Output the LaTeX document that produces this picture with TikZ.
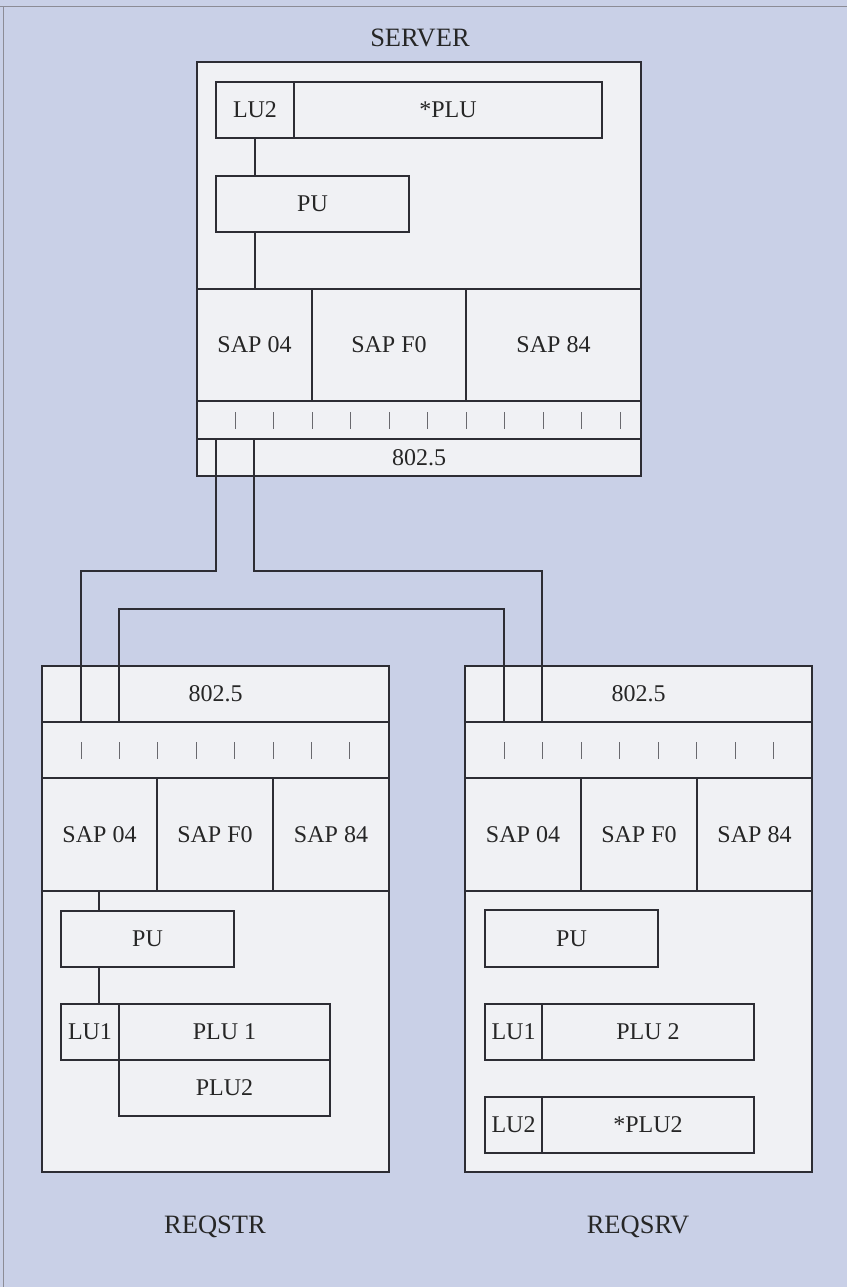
\documentclass[tikz,border=0pt]{standalone}
\usepackage{fontspec}
\setmainfont{Liberation Serif}
\definecolor{bgc}{RGB}{201,208,231}
\definecolor{boxc}{RGB}{240,241,244}
\definecolor{linec}{RGB}{45,45,52}
\definecolor{tickc}{RGB}{105,105,110}
\definecolor{framec}{RGB}{140,140,150}
\newcommand\mybox[7][]{\node[cell,#1,minimum width={(#5-#3)*1pt},minimum height={(#6-#4)*1pt}] (#2) at (#3,#4) {#7};}
\begin{document}
\begin{tikzpicture}[x=1pt,y=-1pt,
  cell/.style={draw=linec,fill=boxc,line width=1.1pt,inner sep=0pt,outer sep=0pt,anchor=north west,
    font=\fontsize{24}{28}\selectfont,text=black!85},
  outer/.style={line width=2.2pt},
  conn/.style={draw=linec,line width=1.6pt},
  tick/.style={draw=tickc,line width=1pt},
  lbl/.style={font=\fontsize{26.5}{30}\selectfont,text=black!85,inner sep=0pt}]
\useasboundingbox (0,0) rectangle (847,1287);
\fill[bgc] (0,0) rectangle (847,1287);
\draw[framec,line width=1pt] (0,7) -- (847,7);
\draw[framec,line width=1pt] (3,7) -- (3,1287);

% ---------------- SERVER ----------------
\node[lbl] (srvlbl) at (420,38) {SERVER};
\mybox[outer]{srv}{197}{62}{641}{476}{}
\mybox{srvlu}{216}{82}{294}{138}{LU2}
\mybox{srvplu}{294}{82}{602}{138}{*PLU}
\mybox{srvpu}{216}{176}{409}{232}{PU}
\mybox{srvsapa}{197}{289}{312}{401}{SAP 04}
\mybox{srvsapb}{312}{289}{466}{401}{SAP F0}
\mybox{srvsapc}{466}{289}{641}{401}{SAP 84}
\mybox{srvtick}{197}{401}{641}{439}{}
\mybox{srvmac}{197}{439}{641}{476}{802.5}
\draw[outer,draw=linec] (197,62) rectangle (641,476);
\foreach \i in {0,...,10}{\draw[tick] (235+\i*38.5,412) -- (235+\i*38.5,429);}
\draw[conn] (srvlu.south) -- (srvpu.north -| srvlu.south);
\draw[conn] (srvpu.south -| srvlu.south) -- (srvsapa.north -| srvlu.south);

% ---------------- REQSTR ----------------
\mybox[outer]{rqt}{42}{666}{389}{1172}{}
\mybox{rqtmac}{42}{666}{389}{722}{802.5}
\mybox{rqttick}{42}{722}{389}{778}{}
\mybox{rqtsapa}{42}{778}{157}{891}{SAP 04}
\mybox{rqtsapb}{157}{778}{273}{891}{SAP F0}
\mybox{rqtsapc}{273}{778}{389}{891}{SAP 84}
\mybox{rqtpu}{61}{911}{234}{967}{PU}
\mybox{rqtlu}{61}{1004}{119}{1060}{LU1}
\mybox{rqtplua}{119}{1004}{330}{1060}{PLU 1}
\mybox{rqtplub}{119}{1060}{330}{1116}{PLU2}
\draw[outer,draw=linec] (42,666) rectangle (389,1172);
\foreach \i in {0,...,7}{\draw[tick] (81+\i*38.4,742) -- (81+\i*38.4,759);}
\coordinate (rqtx) at (99,0);
\draw[conn] (rqtsapa.south -| rqtx) -- (rqtpu.north -| rqtx);
\draw[conn] (rqtpu.south -| rqtx) -- (rqtlu.north -| rqtx);
\node[lbl] (rqtlbl) at (215,1227) {REQSTR};

% ---------------- REQSRV ----------------
\mybox[outer]{rqv}{465}{666}{812}{1172}{}
\mybox{rqvmac}{465}{666}{812}{722}{802.5}
\mybox{rqvtick}{465}{722}{812}{778}{}
\mybox{rqvsapa}{465}{778}{581}{891}{SAP 04}
\mybox{rqvsapb}{581}{778}{697}{891}{SAP F0}
\mybox{rqvsapc}{697}{778}{812}{891}{SAP 84}
\mybox{rqvpu}{485}{910}{658}{967}{PU}
\mybox{rqvlua}{485}{1004}{542}{1060}{LU1}
\mybox{rqvplua}{542}{1004}{754}{1060}{PLU 2}
\mybox{rqvlub}{485}{1097}{542}{1153}{LU2}
\mybox{rqvplub}{542}{1097}{754}{1153}{*PLU2}
\draw[outer,draw=linec] (465,666) rectangle (812,1172);
\foreach \i in {0,...,7}{\draw[tick] (504+\i*38.5,742) -- (504+\i*38.5,759);}
\node[lbl] (rqvlbl) at (638,1227) {REQSRV};

% ---------------- connectors ----------------
\coordinate (pa) at (216,0);
\coordinate (pb) at (254,0);
\coordinate (qa) at (81,0);
\coordinate (qb) at (119,0);
\coordinate (ra) at (504,0);
\coordinate (rb) at (542,0);
\coordinate (ya) at (0,571);
\coordinate (yb) at (0,609);
\draw[conn] (srvtick.south -| pa) -- (ya -| pa) -- (ya -| qa) -- (rqtmac.south -| qa);
\draw[conn] (srvtick.south -| pb) -- (ya -| pb) -- (ya -| rb) -- (rqvmac.south -| rb);
\draw[conn] (rqtmac.south -| qb) -- (yb -| qb) -- (yb -| ra) -- (rqvmac.south -| ra);
\end{tikzpicture}
\end{document}
